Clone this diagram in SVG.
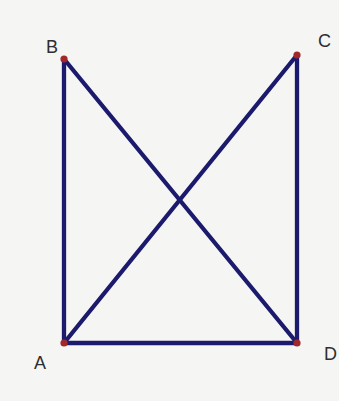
<svg xmlns="http://www.w3.org/2000/svg" width="339" height="401" viewBox="0 0 339 401">
<style>
.seg{stroke:#1c1a6c;stroke-width:4.3;stroke-linecap:round;fill:none}
.pt{fill:#a1272b}
.lbl{font-family:"Liberation Sans",Arial,sans-serif;font-size:18px;fill:#2e2e2e}
</style>
<rect width="339" height="401" fill="#f5f5f3"/>
<g id="connectors">
<line class="seg" x1="64" y1="59" x2="64" y2="343"/>
<line class="seg" x1="64" y1="343" x2="297" y2="343"/>
<line class="seg" x1="297" y1="55" x2="297" y2="343"/>
<line class="seg" x1="64" y1="59" x2="297" y2="343"/>
<line class="seg" x1="64" y1="343" x2="297" y2="55"/>
</g>
<g id="B"><circle class="pt" cx="64" cy="59" r="3.6"/><text class="lbl" x="46" y="53">B</text></g>
<g id="C"><circle class="pt" cx="297" cy="55" r="3.6"/><text class="lbl" x="318" y="47">C</text></g>
<g id="A"><circle class="pt" cx="64" cy="343" r="3.6"/><text class="lbl" x="34" y="369">A</text></g>
<g id="D"><circle class="pt" cx="297" cy="343" r="3.6"/><text class="lbl" x="324" y="360">D</text></g>
</svg>
